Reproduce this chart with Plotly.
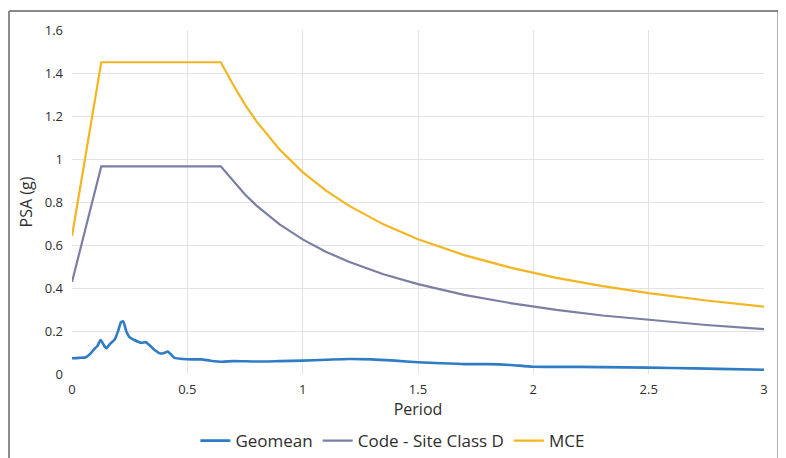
import plotly.graph_objects as go

# Geomean spectrum
geo_period = [0.00, 0.03, 0.06, 0.08, 0.10, 0.11, 0.124, 0.135, 0.148, 0.165, 0.185, 0.20, 0.212, 0.222,
              0.235, 0.25, 0.27, 0.30, 0.32, 0.34, 0.36, 0.38, 0.40, 0.415, 0.43, 0.445, 0.48, 0.52,
              0.56, 0.60, 0.65, 0.70, 0.80, 0.90, 1.00, 1.10, 1.20, 1.30, 1.40, 1.50, 1.60, 1.70,
              1.80, 1.90, 2.00, 2.20, 2.40, 2.60, 2.80, 3.00]
geo_psa = [0.073, 0.075, 0.078, 0.095, 0.12, 0.13, 0.158, 0.14, 0.12, 0.14, 0.16, 0.2, 0.24, 0.245,
           0.2, 0.17, 0.158, 0.145, 0.148, 0.13, 0.11, 0.096, 0.098, 0.104, 0.09, 0.075, 0.07, 0.068,
           0.068, 0.062, 0.057, 0.06, 0.058, 0.06, 0.062, 0.066, 0.07, 0.068, 0.062, 0.055, 0.05, 0.046,
           0.046, 0.042, 0.034, 0.033, 0.031, 0.028, 0.024, 0.02]

# Design spectra
spec_period = [0.0, 0.127, 0.645, 0.70, 0.75, 0.80, 0.90, 1.00, 1.10, 1.20, 1.35, 1.50, 1.70, 1.90,
               2.10, 2.30, 2.50, 2.75, 3.00]
code_psa = [0.428, 0.966, 0.966, 0.895, 0.835, 0.783, 0.696, 0.626, 0.569, 0.522, 0.464, 0.418,
            0.368, 0.330, 0.298, 0.272, 0.251, 0.228, 0.209]
mce_psa = [0.642, 1.450, 1.450, 1.343, 1.253, 1.175, 1.044, 0.939, 0.854, 0.783, 0.696, 0.627,
           0.553, 0.495, 0.447, 0.409, 0.376, 0.342, 0.313]

FONT = "Open Sans"
TXT = "#2e2e2e"

fig = go.Figure()
fig.add_trace(go.Scatter(x=geo_period, y=geo_psa, mode="lines", name="Geomean",
                         line=dict(color="#2f7bc4", width=2.6, shape="spline", smoothing=0.6)))
fig.add_trace(go.Scatter(x=spec_period, y=code_psa, mode="lines", name="Code - Site Class D",
                         line=dict(color="#7c7ea3", width=2.2)))
fig.add_trace(go.Scatter(x=spec_period, y=mce_psa, mode="lines", name="MCE",
                         line=dict(color="#f3b522", width=2.2)))

# outer frame
fig.add_shape(type="line", xref="paper", yref="paper", x0=-0.091, x1=1.022, y0=1.055, y1=1.055,
              line=dict(color="#8a8a8a", width=2))
fig.add_shape(type="line", xref="paper", yref="paper", x0=-0.091, x1=-0.091, y0=1.055, y1=-0.4,
              line=dict(color="#8a8a8a", width=2))
fig.add_shape(type="line", xref="paper", yref="paper", x0=1.022, x1=1.022, y0=1.058, y1=-0.4,
              line=dict(color="#6a6a6a", width=3.5))

fig.update_layout(
    width=778, height=450,
    margin=dict(l=64, r=22, t=22, b=84, autoexpand=False),
    paper_bgcolor="white", plot_bgcolor="white",
    font=dict(family=FONT, color=TXT, size=13),
    showlegend=True,
    legend=dict(orientation="h", x=0.463, xanchor="center", y=-0.195, yanchor="middle",
                font=dict(size=17, family=FONT, color=TXT), itemwidth=30, tracegroupgap=0),
    xaxis=dict(range=[0, 3], tickvals=[0, 0.5, 1, 1.5, 2, 2.5, 3],
               ticktext=["0", "0.5", "1", "1.5", "2", "2.5", "3"],
               showgrid=True, gridcolor="#e3e3e6", gridwidth=1, zeroline=False,
               showline=False, ticks="", tickfont=dict(size=13), ticklabelstandoff=6,
               automargin=False,
               title=dict(text="Period", font=dict(size=16), standoff=2)),
    yaxis=dict(range=[0, 1.6], tickvals=[0, 0.2, 0.4, 0.6, 0.8, 1, 1.2, 1.4, 1.6],
               ticktext=["0", "0.2", "0.4", "0.6", "0.8", "1", "1.2", "1.4", "1.6"],
               showgrid=True, gridcolor="#e3e3e6", gridwidth=1, zeroline=False,
               showline=False, ticks="", tickfont=dict(size=13), ticklabelstandoff=8,
               automargin=False,
               title=dict(text="PSA (g)", font=dict(size=16), standoff=8)),
)

fig.write_html("out.html")
